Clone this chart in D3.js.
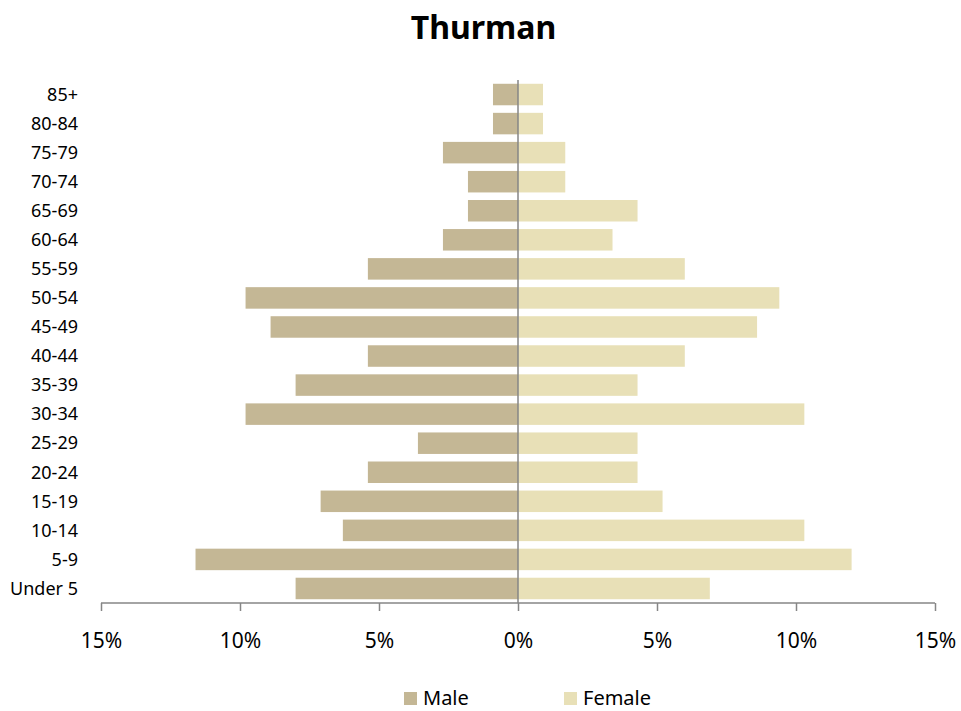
<!DOCTYPE html>
<html>
<head>
<meta charset="utf-8">
<title>Thurman</title>
<script src="https://d3js.org/d3.v7.min.js"></script>
<style>
  body { margin: 0; background: #fff; font-family: "Noto Sans", "Open Sans", sans-serif; }
</style>
</head>
<body>
<div id="chart"></div>
<script>
// age groups, top to bottom
var ages = ["85+", "80-84", "75-79", "70-74", "65-69", "60-64", "55-59", "50-54", "45-49",
            "40-44", "35-39", "30-34", "25-29", "20-24", "15-19", "10-14", "5-9", "Under 5"];
// percent of population
var male   = [0.9, 0.9, 2.7, 1.8, 1.8, 2.7, 5.4, 9.8, 8.9, 5.4, 8.0, 9.8, 3.6, 5.4, 7.1, 6.3, 11.6, 8.0];
var female = [0.9, 0.9, 1.7, 1.7, 4.3, 3.4, 6.0, 9.4, 8.6, 6.0, 4.3, 10.3, 4.3, 4.3, 5.2, 10.3, 12.0, 6.9];
var ticks = [-15, -10, -5, 0, 5, 10, 15];
var seriesNames = ["Male", "Female"];
var colors = ["#c4b795", "#e8e0b7"];

var w = 961, h = 711;
var plotLeft = 101, plotRight = 935, plotTop = 80, plotBottom = 603;

var svg = d3.select("#chart").append("svg")
  .attr("width", w)
  .attr("height", h);

var x = d3.scaleLinear().domain([-15, 15]).range([plotLeft, plotRight]);
var y = d3.scaleBand().domain(ages).range([plotTop, plotBottom]).paddingInner(0.26).paddingOuter(0.13);

svg.append("text")
  .attr("x", w / 2 + 3)
  .attr("y", 39)
  .attr("text-anchor", "middle")
  .attr("font-size", "32px")
  .attr("font-weight", "bold")
  .text("Thurman");

// male bars (left)
svg.selectAll("rect.male")
  .data(male)
  .enter()
  .append("rect")
  .attr("class", "male")
  .attr("x", function(d) { return x(-d); })
  .attr("y", function(d, i) { return y(ages[i]); })
  .attr("width", function(d) { return x(0) - x(-d); })
  .attr("height", y.bandwidth())
  .attr("fill", colors[0]);

// female bars (right)
svg.selectAll("rect.female")
  .data(female)
  .enter()
  .append("rect")
  .attr("class", "female")
  .attr("x", x(0))
  .attr("y", function(d, i) { return y(ages[i]); })
  .attr("width", function(d) { return x(d) - x(0); })
  .attr("height", y.bandwidth())
  .attr("fill", colors[1]);

// center line
svg.append("line")
  .attr("x1", x(0)).attr("x2", x(0))
  .attr("y1", plotTop).attr("y2", plotBottom)
  .attr("stroke", "#868686")
  .attr("stroke-width", 1.5);

// category labels
svg.selectAll("text.age")
  .data(ages)
  .enter()
  .append("text")
  .attr("class", "age")
  .attr("x", 78)
  .attr("y", function(d) { return y(d) + y.bandwidth() / 2; })
  .attr("dy", "0.35em")
  .attr("text-anchor", "end")
  .attr("font-size", "18px")
  .attr("fill", "#000")
  .text(function(d) { return d; });

// x axis
var xAxis = d3.axisBottom(x)
  .tickValues(ticks)
  .tickSize(8)
  .tickPadding(22)
  .tickFormat(function(d) { return Math.abs(d) + "%"; });

var gx = svg.append("g")
  .attr("transform", "translate(0," + plotBottom + ")")
  .call(xAxis);
gx.select(".domain").attr("stroke", "#868686").attr("stroke-width", 1.5)
  .attr("d", "M" + plotLeft + ",0H" + plotRight);
gx.selectAll(".tick line").attr("stroke", "#868686").attr("stroke-width", 1.5);
gx.selectAll(".tick text")
  .attr("font-size", "21px")
  .attr("font-family", "Noto Sans, Open Sans, sans-serif")
  .attr("fill", "#000");

// legend
var legendX = [404, 564];
var legend = svg.selectAll("g.legend")
  .data(seriesNames)
  .enter()
  .append("g")
  .attr("class", "legend")
  .attr("transform", function(d, i) { return "translate(" + legendX[i] + ",692)"; });
legend.append("rect")
  .attr("width", 13)
  .attr("height", 13)
  .attr("fill", function(d, i) { return colors[i]; });
legend.append("text")
  .attr("x", 19)
  .attr("y", 6)
  .attr("dy", "0.35em")
  .attr("font-size", "20px")
  .text(function(d) { return d; });
</script>
</body>
</html>
